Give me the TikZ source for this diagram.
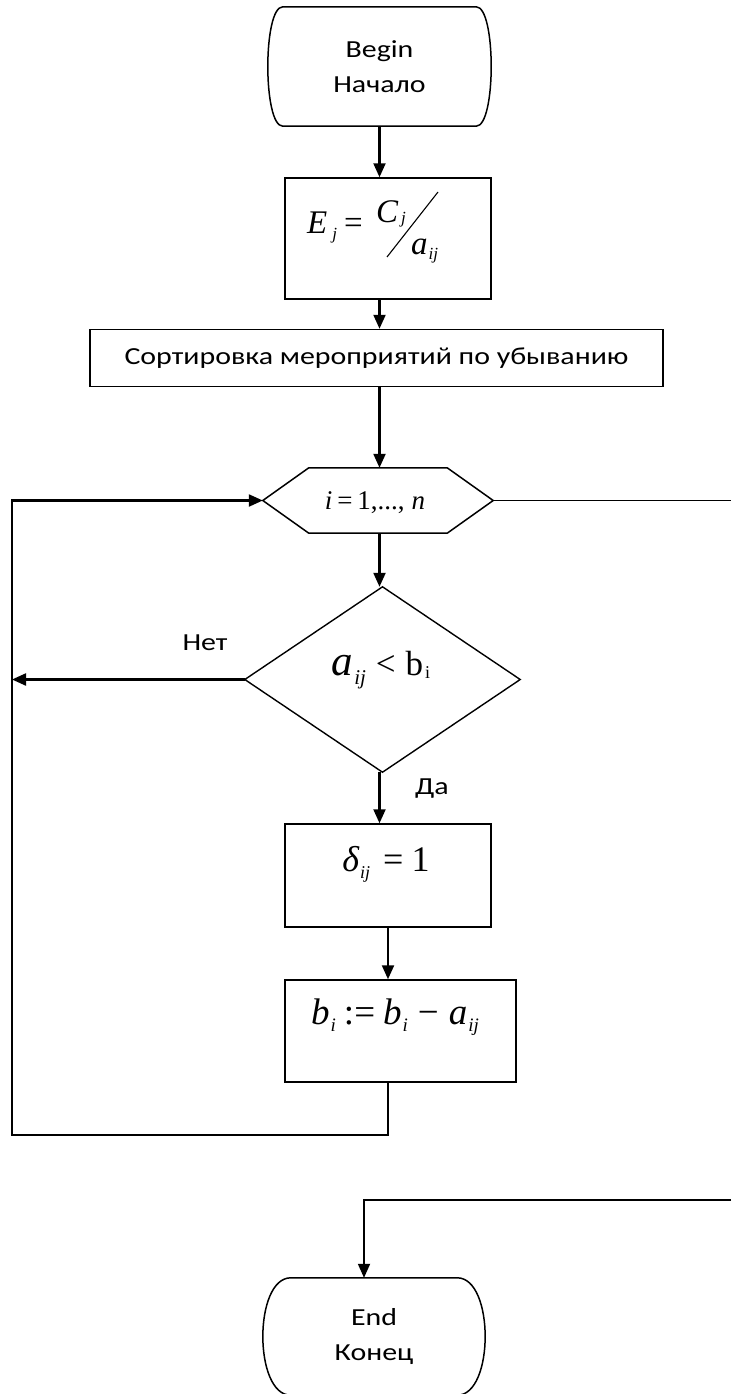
\documentclass[tikz,border=0pt]{standalone}
\usepackage{fontspec}
\setmainfont{Carlito}[FakeStretch=1.22]
\newfontfamily\tms{Liberation Serif}
\usetikzlibrary{arrows.meta}
\tikzset{
  blk/.style={rectangle, draw, line width=1.5pt, inner sep=0pt},
  ghost/.style={rectangle, draw=none, inner sep=0pt},
  outl/.style={line width=1.5pt, line join=miter},
  arr/.style={line width=2.2pt, -{Triangle[length=14pt,width=12pt]}},
  ln/.style={line width=2.2pt},
  lbl/.style={inner sep=0pt, font=\fontsize{24.5}{35}\selectfont, align=center},
  mth/.style={inner sep=0pt, font=\tms}
}
\begin{document}
\begin{tikzpicture}[x=1pt,y=-1pt]
\useasboundingbox (0,0) rectangle (731,1394);
% Begin
\node[ghost, lbl, minimum width=223pt, minimum height=119pt] (bg) at (379.5,66.5) {Begin\\Начало};
\draw[outl] ([xshift=15pt]bg.north west) -- ([xshift=-15pt]bg.north east)
  .. controls ([xshift=5pt]bg.north east) and ([xshift=5pt]bg.south east) .. ([xshift=-15pt]bg.south east)
  -- ([xshift=15pt]bg.south west)
  .. controls ([xshift=-5pt]bg.south west) and ([xshift=-5pt]bg.north west) .. cycle;
% formula box
\node[blk, minimum width=206pt, minimum height=121pt] (f1) at (388,238.5) {};
\node[mth, anchor=base west] (fE) at (307,233) {\fontsize{33}{33}\selectfont\itshape E\hspace{5pt}\raisebox{-6pt}{\fontsize{17}{17}\selectfont j}\hspace{7pt}\upshape =};
\node[mth, anchor=base west] (fC) at (376,222) {\fontsize{33}{33}\selectfont\itshape C\hspace{3pt}\raisebox{-1pt}{\fontsize{17}{17}\selectfont j}};
\node[mth, anchor=base west] (fa) at (411,254) {\fontsize{33}{33}\selectfont\itshape a\hspace{1pt}\raisebox{-5pt}{\fontsize{17}{17}\selectfont ij}};
\draw[line width=1.1pt] ([shift={(-1,18.5)}]f1.center) -- ([shift={(50,-46.5)}]f1.center);
% sort box
\node[blk, lbl, minimum width=573pt, minimum height=57pt] (sort) at (376.5,358) {Сортировка мероприятий по убыванию};
% hexagon
\node[ghost, minimum width=230pt, minimum height=65pt] (hex) at (378,500.5) {};
\draw[outl] (hex.west) -- ([xshift=46pt]hex.north west) -- ([xshift=-46pt]hex.north east) -- (hex.east)
  -- ([xshift=-46pt]hex.south east) -- ([xshift=46pt]hex.south west) -- cycle;
\node[mth, anchor=base] (hext) at (375,509) {\fontsize{27}{27}\selectfont\itshape i\hspace{5pt}\upshape =\hspace{5pt}1,...,\hspace{7pt}\itshape n};
% diamond
\node[ghost, minimum width=275pt, minimum height=185pt] (dec) at (382.5,679.5) {};
\draw[line width=1.4pt] (dec.north) -- (dec.east) -- (dec.south) -- (dec.west) -- cycle;
\node[mth, anchor=base] (dect) at (381,675) {\fontsize{43}{43}\selectfont\itshape a\hspace{1pt}\raisebox{-9pt}{\fontsize{21}{21}\selectfont ij}\hspace{10pt}\upshape\fontsize{35}{35}\selectfont <\hspace{10pt}b\hspace{2pt}\raisebox{-3pt}{\fontsize{18}{18}\selectfont i}};
% delta box
\node[blk, minimum width=206pt, minimum height=103pt] (dl) at (388,875.5) {};
\node[mth, anchor=base] (dlt) at (386,871) {\fontsize{36}{36}\selectfont\itshape δ\hspace{1pt}\raisebox{-7pt}{\fontsize{18}{18}\selectfont ij}\hspace{13pt}\upshape =\hspace{8pt}1};
% b box
\node[blk, minimum width=231pt, minimum height=102pt] (bb) at (400.5,1031) {};
\node[mth, anchor=base] (bbt) at (395,1024) {\fontsize{37}{37}\selectfont\itshape b\hspace{1pt}\raisebox{-7pt}{\fontsize{19}{19}\selectfont i}\hspace{8pt}\upshape :=\hspace{8pt}\itshape b\hspace{1pt}\raisebox{-7pt}{\fontsize{19}{19}\selectfont i}\hspace{10pt}\upshape −\hspace{10pt}\itshape a\hspace{1pt}\raisebox{-7pt}{\fontsize{19}{19}\selectfont ij}};
% End
\node[ghost, lbl, minimum width=222pt, minimum height=117pt] (en) at (374,1336.5) {End\\Конец};
\draw[outl] ([xshift=28pt]en.north west) -- ([xshift=-28pt]en.north east)
  .. controls ([xshift=9.3pt]en.north east) and ([xshift=9.3pt]en.south east) .. ([xshift=-28pt]en.south east)
  -- ([xshift=28pt]en.south west)
  .. controls ([xshift=-9.3pt]en.south west) and ([xshift=-9.3pt]en.north west) .. cycle;
% labels
\node[lbl] (no) at (205,643) {Нет};
\node[lbl] (yes) at (432,789) {Да};
% coordinates
\coordinate (lc) at (12,1135);
\coordinate (lt) at (12,500.5);
\coordinate (r1) at (731,500.5);
\coordinate (r2) at (731,1200);
\coordinate (e1) at (364,1200);
% connectors
\draw[arr] (bg.south) -- (bg.south |- f1.north);
\draw[arr] (f1.south -| bg.south) -- (sort.north -| bg.south);
\draw[arr] (sort.south -| bg.south) -- (hex.north -| bg.south);
\draw[arr] (hex.south -| bg.south) -- (dec.north -| bg.south);
\draw[arr] (dec.south -| bg.south) -- (dl.north -| bg.south);
\draw[arr] (dl.south) -- (dl.south |- bb.north);
\draw[arr] (dec.west) -- (dec.west -| lc);
\draw[arr] (bb.south -| dl.south) |- (lc) -- (lt) -- (hex.west);
\draw[ln, line width=1.8pt] (hex.east) -- (r1);
\draw[arr, line width=1.8pt] (r2) -- (e1) -- (e1 |- en.north);
\end{tikzpicture}
\end{document}
